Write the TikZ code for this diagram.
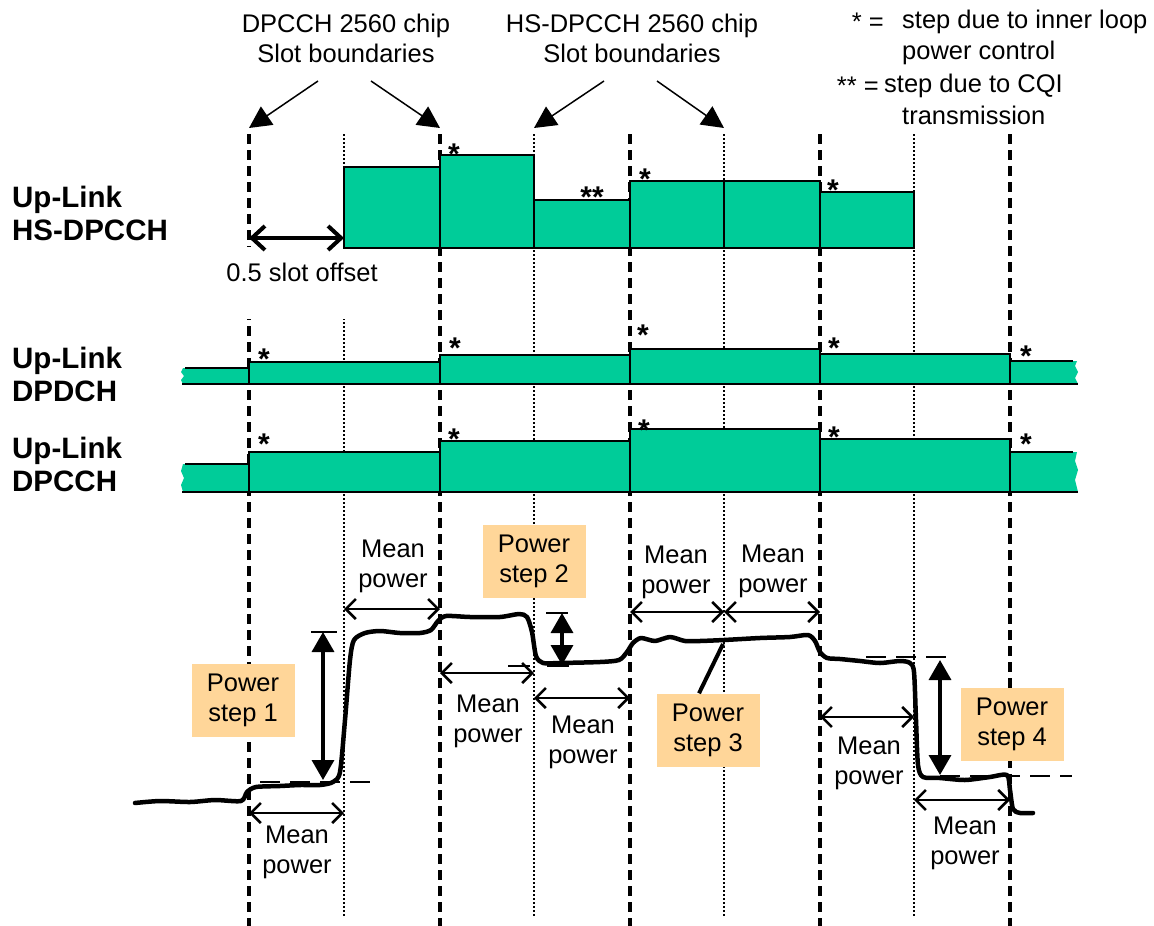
\documentclass[tikz,border=0pt]{standalone}
\usepackage{fontspec}
\setmainfont{Liberation Sans}
\usetikzlibrary{arrows.meta, calc, positioning}
\definecolor{chgreen}{RGB}{0,204,153}
\definecolor{steporange}{RGB}{255,214,153}

\begin{document}
\begin{tikzpicture}[x=1pt, y=-1pt, >=Stealth,
    lbl/.style={font=\fontsize{25.5}{30}\selectfont, align=center, inner sep=0pt},
    chname/.style={font=\fontsize{29.5}{33}\selectfont\bfseries, align=left, anchor=west, inner sep=0pt},
    stepbox/.style={fill=steporange, font=\fontsize{25.5}{30}\selectfont, align=center,
        minimum width=103pt, minimum height=73pt, inner sep=0pt},
    star/.style={font=\fontsize{30}{30}\selectfont\bfseries, anchor=base, inner sep=0pt},
    slotline/.style={line width=3.3pt, dash pattern=on 10pt off 6pt},
    hsline/.style={line width=2.8pt, dash pattern=on 2pt off 2pt},
    bar/.style={fill=chgreen, draw=black, line width=1.8pt},
    refdash/.style={line width=2.8pt, dash pattern=on 20pt off 10pt},
    meanarr/.style={line width=2.6pt, {Straight Barb[length=10pt,width=20pt]}-{Straight Barb[length=10pt,width=20pt]}},
    steparr/.style={line width=3.5pt, {Triangle[length=20pt,width=22pt]}-{Triangle[length=20pt,width=22pt]}},
    pointer/.style={line width=1.5pt, -{Triangle[length=22pt,width=22pt]}},
    trace/.style={line width=4.5pt, line join=round, line cap=round}]

    \useasboundingbox (0,0) rectangle (1154,926);

    % Slot boundaries
    \foreach \x in {249,440,630,820,1010}
        \draw[slotline] (\x,134) -- (\x,926);
    \foreach \x in {344,534,724,914}
        \draw[hsline] (\x,134) -- (\x,917);

    % Headings
    \node[lbl] (dpcch) at (346,38) {DPCCH 2560 chip\\Slot boundaries};
    \node[lbl] (hsdpcch) at (632,38) {HS-DPCCH 2560 chip\\Slot boundaries};
    \coordinate (s1) at (318,81);  \coordinate (t1) at (249,128);
    \coordinate (s2) at (371,81);  \coordinate (t2) at (440,128);
    \coordinate (s3) at (604,81);  \coordinate (t3) at (534,128);
    \coordinate (s4) at (657,81);  \coordinate (t4) at (724,128);
    \foreach \i in {1,2,3,4}
        \draw[pointer] (s\i) -- (t\i);

    % Legend
    \node[lbl, anchor=east] (leg1s) at (884,22) {* =};
    \node[lbl, anchor=west] (leg1) at (902,22) {step due to inner loop};
    \node[lbl, anchor=west] (leg1b) at (902,53) {power control};
    \node[lbl, anchor=east] (leg2s) at (879,86) {** =};
    \node[lbl, anchor=west] (leg2) at (884,86) {step due to CQI};
    \node[lbl, anchor=west] (leg2b) at (902,115) {transmission};

    % Channel names
    \node[chname] (hsname) at (12,213) {Up-Link\\HS-DPCCH};
    \node[chname] (dpdname) at (12,374) {Up-Link\\DPDCH};
    \node[chname] (dpcname) at (12,464) {Up-Link\\DPCCH};

    % HS-DPCCH slots
    \fill[white] (222,247) rectangle (384,319);
    \foreach \a/\b/\t in {344/440/167, 440/534/155, 534/630/200, 630/724/181, 724/820/181, 820/914/192}
        \filldraw[bar] (\a,248) rectangle (\b,\t);
    \draw[line width=4pt, {Straight Barb[length=13pt,width=24pt]}-{Straight Barb[length=13pt,width=24pt]}]
        (249,238) -- (344,238);
    \node[lbl] (offset) at (302,272) {0.5 slot offset};

    % DPDCH slots
    \fill[chgreen] (183,368) -- (249,368) -- (249,384) -- (183,384)
        -- (181,380) -- (184,376) -- (181,372) -- cycle;
    \draw[line width=1.8pt] (185,368) -- (249,368) -- (249,384) -- (182,384);
    \foreach \a/\b/\t in {249/440/362, 440/630/355, 630/820/349, 820/1010/354}
        \filldraw[bar] (\a,384) rectangle (\b,\t);
    \fill[chgreen] (1010,361) -- (1077,361) -- (1075,366) -- (1078,372) -- (1075,378) -- (1078,384) -- (1010,384) -- cycle;
    \draw[line width=1.8pt] (1073,361) -- (1010,361) -- (1010,384) -- (1078,384);

    % DPCCH slots
    \fill[chgreen] (183,464) -- (249,464) -- (249,492) -- (183,492)
        -- (181,485) -- (184,478) -- (181,471) -- cycle;
    \draw[line width=1.8pt] (185,464) -- (249,464) -- (249,492) -- (182,492);
    \foreach \a/\b/\t in {249/440/452, 440/630/441, 630/820/429, 820/1010/439}
        \filldraw[bar] (\a,492) rectangle (\b,\t);
    \fill[chgreen] (1010,452) -- (1077,452) -- (1075,461) -- (1078,470) -- (1075,480) -- (1078,492) -- (1010,492) -- cycle;
    \draw[line width=1.8pt] (1073,452) -- (1010,452) -- (1010,492) -- (1078,492);

    % Step markers
    \foreach \x/\y/\s [count=\i] in {454/147/*, 592/190/**, 645/172/*, 833/183/*,
            264/352/*, 455/341/*, 643/328/*, 834/341/*, 1026/349/*,
            264/437/*, 454/432/*, 644/423/*, 834/430/*, 1026/437/*}
        \node[star] (st\i) at (\x,\y+17) {\s};

    % Power steps
    \node[stepbox] (ps1) at (243,700) {Power\\step 1};
    \node[stepbox] (ps2) at (534,561) {Power\\step 2};
    \node[stepbox] (ps3) at (708,730) {Power\\step 3};
    \node[stepbox] (ps4) at (1012,724) {Power\\step 4};

    \draw[line width=2.8pt] (311,632) -- (337,632);
    \draw[refdash] (260,782) -- (372,782);
    \draw[steparr] (323,632) -- (323,780);

    \draw[line width=2.8pt] (546,613) -- (568,613);
    \draw[line width=2.8pt, dash pattern=on 22pt off 17pt] (508,666) -- (569,666);
    \draw[steparr] (562,613) -- (562,665);

    \draw[refdash] (866,657) -- (952,657);
    \draw[refdash] (940,776) -- (1072,776);
    \draw[steparr] (940,660) -- (940,775);

    % Mean power intervals
    \foreach \a/\b/\y in {249/344/813, 344/440/609, 440/534/673, 534/630/698,
            630/724/612, 724/820/612, 820/914/717, 914/1010/800}
        \draw[meanarr] (\a,\y) -- (\b,\y);
    \foreach \x/\y [count=\i] in {297/852, 393/566, 488/721, 583/742, 676/572, 773/571, 869/763, 965/843}
        \node[lbl] (mp\i) at (\x,\y) {Mean\\power};

    % Measured power
    \draw[trace] plot[smooth, tension=0.45] coordinates {
        (135,803) (160,801) (190,802) (215,800) (241,801) (247,792) (256,787) (280,786)
        (300,785) (320,785) (333,782) (340,772) (345,720) (350,660) (354,640) (365,633)
        (380,631) (400,633) (420,633) (431,630) (438,621) (446,616) (470,617) (500,617)
        (519,614) (527,617) (532,632) (536,656) (543,663) (560,663) (600,662) (619,660)
        (627,652) (633,643) (641,638) (655,641) (670,637) (685,641) (700,641) (724,640)
        (760,638) (790,637) (808,635) (815,641) (820,652) (827,658) (840,659) (860,661)
        (880,663) (900,661) (910,663) (914,672) (916,720) (918,765) (923,777) (940,778)
        (965,780) (990,777) (1007,775) (1010,790) (1013,809) (1020,813) (1033,813)};
    \coordinate (p3tip) at (723,644);
    \draw[line width=4pt] ([xshift=-9pt]ps3.north) -- (p3tip);
\end{tikzpicture}
\end{document}
